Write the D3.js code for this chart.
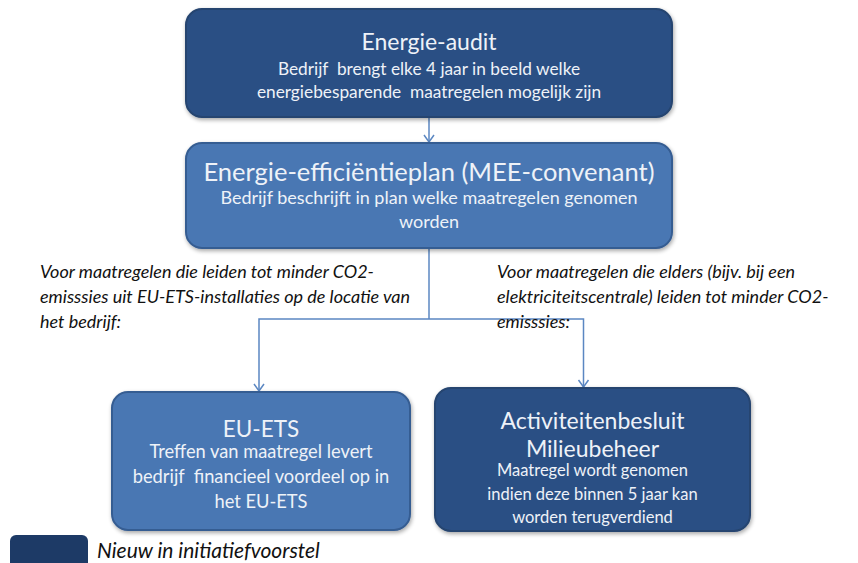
<!DOCTYPE html>
<html><head><meta charset="utf-8">
<script src="https://cdn.jsdelivr.net/npm/d3@7"></script>
<style>html,body{margin:0;padding:0;background:#fff;}svg{display:block;}</style>
</head><body>
<svg id="c" width="858" height="563"></svg>
<script>
// ---- content ----
const boxIds = ["audit", "plan", "ets", "abm"];
const boxTitles = [["Energie-audit"], ["Energie-efficiëntieplan (MEE-convenant)"], ["EU-ETS"], ["Activiteitenbesluit", "Milieubeheer"]];
const boxLines = [
  ["Bedrijf  brengt elke 4 jaar in beeld welke", "energiebesparende  maatregelen mogelijk zijn"],
  ["Bedrijf beschrijft in plan welke maatregelen genomen", "worden"],
  ["Treffen van maatregel levert", "bedrijf  financieel voordeel op in", "het EU-ETS"],
  ["Maatregel wordt genomen", "indien deze binnen 5 jaar kan", "worden terugverdiend"]
];
const boxIsNew = [true, false, false, true];
const leftNote = ["Voor maatregelen die leiden tot minder CO2-", "emisssies uit EU-ETS-installaties op de locatie van", "het bedrijf:"];
const rightNote = ["Voor maatregelen die elders (bijv. bij een", "elektriciteitscentrale) leiden tot minder CO2-", "emisssies:"];
const legendLabel = "Nieuw in initiatiefvoorstel";

// ---- layout ----
const layout = {
  audit: {x: 186, y: 9, w: 486, h: 108, titleY: 50, titleFs: 23, lineY0: 75, dy: 23, fs: 17.3},
  plan:  {x: 186, y: 143, w: 486, h: 105, titleY: 181, titleFs: 25.5, lineY0: 204, dy: 24, fs: 18},
  ets:   {x: 112, y: 392, w: 298, h: 138, titleY: 437, titleFs: 22.5, lineY0: 458, dy: 25, fs: 18.3},
  abm:   {x: 435, y: 388, w: 315, h: 143, titleY: 429, titleFs: 23, titleDy: 28, lineY0: 476, dy: 23.5, fs: 16.5}
};
const dark = "#2c4f84", light = "#4a77b3", lineCol = "#5b87c2";
const font = "Lato, 'Open Sans', sans-serif";

const svg = d3.select("#c");
const defs = svg.append("defs");
defs.append("filter").attr("id", "sh").attr("x", "-5%").attr("y", "-5%").attr("width", "115%").attr("height", "120%")
  .html('<feGaussianBlur in="SourceAlpha" stdDeviation="2"/><feOffset dx="1" dy="2"/><feComponentTransfer><feFuncA type="linear" slope="0.35"/></feComponentTransfer><feMerge><feMergeNode/><feMergeNode in="SourceGraphic"/></feMerge>');

// connectors
const cx = layout.audit.x + layout.audit.w / 2;
const splitY = 319;
const leftX = layout.ets.x + layout.ets.w / 2 - 2;
const rightX = layout.abm.x + layout.abm.w / 2 - 9;
const conn = svg.append("g").attr("stroke", lineCol).attr("stroke-width", 1.5).attr("fill", "none");
const line = d3.line();
conn.append("path").attr("d", line([[cx, layout.audit.y + layout.audit.h], [cx, layout.plan.y - 1]]));
conn.append("path").attr("d", line([[cx, layout.plan.y + layout.plan.h], [cx, splitY]]));
conn.append("path").attr("d", line([[leftX, layout.ets.y - 1], [leftX, splitY], [rightX, splitY], [rightX, layout.abm.y - 1]]));
function head(x, y) {
  conn.append("path").attr("d", line([[x - 5, y - 7], [x, y], [x + 5, y - 7]]));
}
head(cx, layout.plan.y - 1);
head(leftX, layout.ets.y - 1);
head(rightX, layout.abm.y - 1);

// boxes
boxIds.forEach((id, i) => {
  const L = layout[id];
  const g = svg.append("g");
  g.append("rect").attr("x", L.x).attr("y", L.y).attr("width", L.w).attr("height", L.h)
    .attr("rx", 16).attr("ry", 16)
    .attr("fill", boxIsNew[i] ? dark : light)
    .attr("stroke", boxIsNew[i] ? "#25446f" : "#365d92").attr("stroke-width", 2)
    .attr("filter", "url(#sh)");
  const mx = L.x + L.w / 2;
  boxTitles[i].forEach((t, k) => {
    g.append("text").attr("x", mx).attr("y", L.titleY + k * (L.titleDy || 0))
      .attr("text-anchor", "middle").attr("fill", "#eef2f8")
      .attr("font-family", font).attr("font-size", L.titleFs).text(t);
  });
  boxLines[i].forEach((t, k) => {
    g.append("text").attr("x", mx).attr("y", L.lineY0 + k * L.dy)
      .attr("text-anchor", "middle").attr("fill", "#eef2f8")
      .attr("font-family", font).attr("font-size", L.fs).style("white-space", "pre").text(t);
  });
});

// notes
function note(lines, x) {
  lines.forEach((t, k) => {
    svg.append("text").attr("x", x).attr("y", 278 + k * 25)
      .attr("fill", "#111").attr("font-family", font).attr("font-style", "italic")
      .attr("font-size", 18).text(t);
  });
}
note(leftNote, 40);
note(rightNote, 497);

// legend
svg.append("rect").attr("x", 10).attr("y", 535).attr("width", 78).attr("height", 40).attr("rx", 6)
  .attr("fill", "#1d3a66");
svg.append("text").attr("x", 97).attr("y", 558).attr("fill", "#111").attr("font-family", font)
  .attr("font-style", "italic").attr("font-size", 21).text(legendLabel);
</script>
</body></html>
